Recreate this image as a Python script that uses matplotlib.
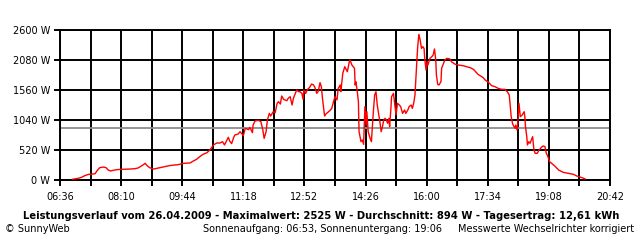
import matplotlib
matplotlib.use("Agg")
import matplotlib.pyplot as plt

# ---- data ----
times = ["06:55","07:04","07:09","07:14","07:20","07:27","07:30","07:33","07:37","07:43",
         "07:47","07:50","07:54","07:58","08:03","08:11","08:24","08:31","08:36","08:42",
         "08:47","08:50","08:54","09:00","09:05","09:10","09:17","09:24","09:28","09:38",
         "09:46","09:56","10:01","10:06","10:11","10:16","10:22","10:27","10:32","10:37",
         "10:42","10:46","10:49","10:52","10:55","10:57","11:00","11:03","11:05","11:10",
         "11:13","11:18","11:21","11:26","11:28","11:32","11:33","11:36","11:41","11:45",
         "11:48","11:50","11:53","11:55","11:58","12:00","12:04","12:07","12:10","12:12",
         "12:15","12:17","12:20","12:22","12:25","12:27","12:30","12:33","12:35","12:38",
         "12:40","12:43","12:45","12:48","12:50","12:51","12:54","12:56","13:00","13:03",
         "13:06","13:08","13:11","13:13","13:16","13:18","13:20","13:23","13:25","13:29",
         "13:31","13:34","13:36","13:39","13:42","13:44","13:47","13:48","13:51","13:54",
         "13:58","14:01","14:02","14:05","14:07","14:09","14:10","14:11","14:13","14:15",
         "14:16","14:19","14:21","14:23","14:25","14:27","14:28","14:30","14:33","14:35",
         "14:38","14:40","14:42","14:44","14:46","14:48","14:50","14:52","14:54","14:56",
         "14:58","15:00","15:02","15:03","15:05","15:06","15:09","15:11","15:13","15:15",
         "15:18","15:20","15:23","15:26","15:28","15:31","15:33","15:36","15:38","15:40",
         "15:42","15:44","15:46","15:48","15:50","15:52","15:54","15:56","15:57","15:59",
         "16:01","16:02","16:05","16:08","16:10","16:12","16:14","16:15","16:17","16:19",
         "16:22","16:23","16:26","16:28","16:31","16:36","16:38","16:44","16:49","16:56",
         "17:07","17:12","17:19","17:27","17:30","17:35","17:40","17:45","17:50","17:55",
         "18:00","18:04","18:07","18:08","18:10","18:12","18:13","18:16","18:17","18:19",
         "18:20","18:22","18:24","18:27","18:30","18:31","18:32","18:34","18:35","18:37",
         "18:39","18:42","18:43","18:45","18:47","18:50","18:53","18:56","18:59","19:02",
         "19:04","19:06","19:09","19:12","19:17","19:23","19:30","19:38","19:46","19:51",
         "19:59","20:04"]
power = [12, 29, 46, 75, 98, 104, 110, 161, 213, 225,
         213, 173, 156, 168, 179, 185, 190, 196, 208, 248,
         289, 248, 213, 190, 202, 213, 231, 248, 255, 266,
         289, 295, 329, 358, 404, 445, 473, 526, 607, 641,
         641, 664, 607, 676, 740, 676, 630, 734, 780, 797,
         838, 768, 896, 872, 913, 820, 953, 1023, 1034, 1011,
         867, 722, 838, 1040, 1155, 1109, 1184, 1167, 1329, 1358,
         1317, 1456, 1398, 1387, 1375, 1416, 1444, 1300, 1416, 1502,
         1560, 1531, 1531, 1502, 1398, 1560, 1502, 1560, 1606, 1664,
         1647, 1606, 1502, 1531, 1687, 1618, 1387, 1109, 1144, 1184,
         1202, 1242, 1329, 1444, 1387, 1589, 1647, 1531, 1849, 1964,
         1877, 2050, 2080, 1993, 1964, 1935, 1647, 1704, 1560, 1358,
         838, 664, 693, 618, 1271, 953, 1184, 838, 722, 664,
         1184, 1473, 1531, 1300, 1155, 1011, 838, 925, 1040, 1069,
         1040, 983, 1069, 925, 1242, 1444, 1502, 1300, 1127, 1329,
         1300, 1271, 1155, 1213, 1155, 1213, 1271, 1300, 1242, 1329,
         1473, 1878, 2282, 2525, 2427, 2282, 2311, 2282, 2109, 1907,
         2050, 1993, 2109, 2138, 2167, 2271, 2080, 1820, 1658, 1647,
         1704, 1936, 2022, 2080, 2109, 2097, 2050, 2005, 1993, 1981,
         1947, 1918, 1831, 1774, 1733, 1693, 1635, 1618, 1589, 1572,
         1572, 1531, 1473, 1358, 1098, 983, 953, 896, 953, 867,
         965, 1329, 1098, 1127, 1184, 1098, 925, 751, 607, 664,
         636, 722, 751, 520, 462, 462, 520, 560, 590, 578,
         462, 421, 318, 289, 243, 173, 133, 116, 98, 69,
         40, 17]
average = 894
x_start, x_end, x_step = "06:36", "20:42", 47   # minutes between grid lines
y_ticks = [0, 520, 1040, 1560, 2080, 2600]
title = ("Leistungsverlauf vom 26.04.2009 - Maximalwert: 2525 W - "
         "Durchschnitt: 894 W - Tagesertrag: 12,61 kWh")
footer_left = "\u00a9 SunnyWeb"
footer_mid = "Sonnenaufgang: 06:53, Sonnenuntergang: 19:06"
footer_right = "Messwerte Wechselrichter korrigiert"


def to_min(s):
    h, m = s.split(":")
    return int(h) * 60 + int(m)


def to_str(m):
    return "%02d:%02d" % (m // 60, m % 60)


t = [to_min(s) for s in times]
t0, t1 = to_min(x_start), to_min(x_end)
xgrid = list(range(t0, t1 + 1, x_step))

plt.rcParams["font.family"] = ["DejaVu Sans"]
fig = plt.figure(figsize=(6.4, 2.4), dpi=100)
ax = fig.add_axes([60 / 640, 60 / 240, 550 / 640, 150 / 240])

ax.set_xlim(t0, t1)
ax.set_ylim(0, 2600)
ax.set_xticks(xgrid)
ax.set_xticklabels([to_str(v) if i % 2 == 0 else "" for i, v in enumerate(xgrid)])
ax.set_yticks(y_ticks)
ax.set_yticklabels(["%d W" % v for v in y_ticks])
ax.grid(True, color="black", linewidth=1.4)
ax.set_axisbelow(True)
for sp in ax.spines.values():
    sp.set_linewidth(1.4)
ax.tick_params(axis="both", length=4, width=1.4, labelsize=7, colors="black")
ax.tick_params(axis="x", pad=5)
ax.tick_params(axis="y", pad=3)

ax.axhline(average, color="#8c8c8c", linewidth=1.3, zorder=2)
ax.plot(t, power, color="#ff0000", linewidth=1.0, zorder=3)

fig.text(321 / 640, 1 - 216 / 240, title, ha="center", va="center",
         fontsize=7.2, fontweight="bold")
fig.text(5 / 640, 1 - 229 / 240, footer_left, ha="left", va="center", fontsize=7)
fig.text(203 / 640, 1 - 229 / 240, footer_mid, ha="left", va="center", fontsize=7)
fig.text(634 / 640, 1 - 229 / 240, footer_right, ha="right", va="center", fontsize=7)

fig.savefig("out.png", dpi=100)
